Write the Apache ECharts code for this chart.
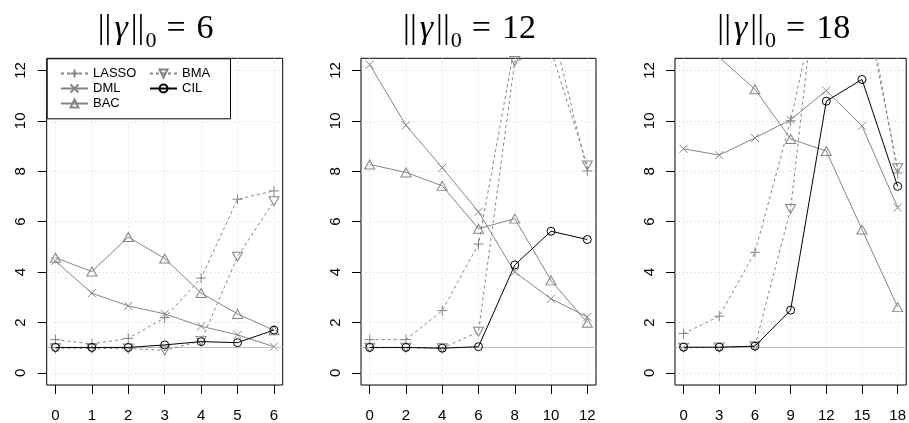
<!DOCTYPE html>
<html>
<head>
<meta charset="utf-8">
<script src="https://cdn.jsdelivr.net/npm/echarts@6/dist/echarts.min.js"></script>
<style>
    html, body { margin: 0; padding: 0; background: #fff; }
    #main { width: 909px; height: 423px; }
</style>
</head>
<body>
<div id="main"></div>
<script>
// values, one block per panel (||gamma||_0 = 6, 12, 18)
var methods = ['LASSO', 'DML', 'BAC', 'BMA', 'CIL'];
var panelLabels = ['6', '12', '18'];
var yTicks = [0, 2, 4, 6, 8, 10, 12];

var x6 = [0, 1, 2, 3, 4, 5, 6];
var lasso6 = [1.32, 1.15, 1.37, 2.19, 3.76, 6.89, 7.22];
var dml6 = [4.44, 3.16, 2.66, 2.34, 1.85, 1.51, 1.04];
var bac6 = [4.57, 4.02, 5.39, 4.54, 3.17, 2.34, 1.69];
var bma6 = [0.98, 0.97, 0.97, 0.89, 1.27, 4.61, 6.81];
var cil6 = [1.01, 1.01, 1.01, 1.11, 1.24, 1.2, 1.7];

var x12 = [0, 2, 4, 6, 8, 10, 12];
var lasso12 = [1.32, 1.32, 2.47, 5.11, 13.0, 13.9, 8.01];
var dml12 = [12.23, 9.82, 8.14, 6.39, 4.0, 2.94, 2.22];
var bac12 = [8.27, 7.95, 7.42, 5.72, 6.12, 3.67, 1.99];
var bma12 = [1.0, 1.0, 0.98, 1.63, 12.37, 12.8, 8.23];
var cil12 = [1.01, 1.01, 0.98, 1.04, 4.28, 5.62, 5.29];

var x18 = [0, 3, 6, 9, 12, 15, 18];
var lasso18 = [1.56, 2.25, 4.78, 10.0, 16.5, 15.8, 7.93];
var dml18 = [8.89, 8.64, 9.32, 10.04, 11.2, 9.8, 6.56];
var bac18 = [14.0, 12.52, 11.25, 9.28, 8.8, 5.69, 2.61];
var bma18 = [1.0, 1.01, 1.06, 6.5, 19.0, 15.2, 8.12];
var cil18 = [1.02, 1.02, 1.06, 2.49, 10.78, 11.64, 7.4];

var refLine = 1;

var panels = [
    {x: x6, xTicks: x6, ys: [lasso6, dml6, bac6, bma6, cil6]},
    {x: x12, xTicks: x12, ys: [lasso12, dml12, bac12, bma12, cil12]},
    {x: x18, xTicks: x18, ys: [lasso18, dml18, bac18, bma18, cil18]}
];

var gray = '#858585';
var styles = {
    LASSO: {color: gray, dash: [3, 3], symbol: 'path://M0,5L10,5M5,0L5,10', size: 10},
    DML:   {color: gray, dash: 'solid', symbol: 'path://M0,0L10,10M10,0L0,10', size: 8},
    BAC:   {color: gray, dash: 'solid', symbol: 'path://M5,0L10,9L0,9Z', size: [10, 9]},
    BMA:   {color: gray, dash: [3, 3], symbol: 'path://M0,0L10,0L5,9Z', size: [10, 9]},
    CIL:   {color: '#000', dash: 'solid', symbol: 'circle', size: 8}
};

var gridLeft = [46.7, 361, 675];
var gridW = [236, 235, 235.5];

var grids = [], xAxes = [], yAxes = [], series = [], titles = [];

var serif = 'Liberation Serif';
var titleRich = {
    a: {fontFamily: serif, fontSize: 34, fontWeight: 'normal', color: '#000', verticalAlign: 'bottom', padding: [0, 1, 6, 1]},
    g: {fontFamily: serif, fontStyle: 'italic', fontSize: 34, fontWeight: 'normal', color: '#000', verticalAlign: 'bottom', padding: [0, 2, 6, 2]},
    s: {fontFamily: serif, fontSize: 22, fontWeight: 'normal', color: '#000', verticalAlign: 'bottom'},
    e: {fontFamily: serif, fontSize: 34, fontWeight: 'normal', color: '#000', verticalAlign: 'bottom', padding: [0, 10, 6, 10]}
};

panels.forEach(function (p, i) {
    var xmax = p.xTicks[p.xTicks.length - 1];
    grids.push({
        left: gridLeft[i], top: 58.3, width: gridW[i], height: 328.4,
        show: true, borderColor: '#000', borderWidth: 1, backgroundColor: 'transparent'
    });
    xAxes.push({
        type: 'value', gridIndex: i,
        min: -0.04 * xmax, max: 1.04 * xmax,
        axisLine: {show: false, onZero: false},
        axisTick: {show: true, length: 9, customValues: p.xTicks, lineStyle: {color: '#000'}},
        axisLabel: {customValues: p.xTicks, margin: 23, color: '#000',
            fontSize: 15, fontFamily: 'Liberation Sans'},
        splitLine: {show: true, lineStyle: {color: '#d3d3d3', type: [1, 3]}}
    });
    yAxes.push({
        type: 'value', gridIndex: i,
        min: -0.48, max: 12.48,
        axisLine: {show: false, onZero: false},
        axisTick: {show: true, length: 9, customValues: yTicks, lineStyle: {color: '#000'}},
        axisLabel: {customValues: yTicks, rotate: 90, margin: 18, color: '#000',
            fontSize: 15, fontFamily: 'Liberation Sans'},
        splitLine: {show: true, lineStyle: {color: '#d3d3d3', type: [1, 3]}}
    });
    methods.forEach(function (m, k) {
        var st = styles[m];
        var s = {
            name: m, type: 'line', xAxisIndex: i, yAxisIndex: i,
            data: p.x.map(function (xv, j) { return [xv, p.ys[k][j]]; }),
            symbol: st.symbol, symbolSize: st.size, showAllSymbol: true,
            lineStyle: {color: st.color, width: 1, type: st.dash},
            itemStyle: {color: 'rgba(255,255,255,0)', borderColor: st.color, borderWidth: 1},
            emphasis: {disabled: true},
            animation: false, z: 2 + k
        };
        if (k === 0) {
            s.markLine = {
                silent: true, symbol: 'none', label: {show: false},
                lineStyle: {color: '#bdbdbd', width: 1, type: 'solid'},
                data: [{yAxis: refLine}]
            };
        }
        series.push(s);
    });
    // title sits a little left of the plot box centre in the original
    titles.push({
        text: '{a|||}{g|γ}{a|||}{s|0}{e|=}{a|' + panelLabels[i] + '}',
        left: gridLeft[i] + gridW[i] / 2 - 14, top: 7, textAlign: 'center',
        textStyle: {fontWeight: 'normal', rich: titleRich}
    });
});

var legendText = {fontSize: 13, fontFamily: 'Liberation Sans', color: '#000'};

var chart = echarts.init(document.getElementById('main'));
chart.setOption({
    animation: false,
    backgroundColor: '#fff',
    title: titles,
    grid: grids,
    xAxis: xAxes,
    yAxis: yAxes,
    legend: [
        {data: ['LASSO', 'DML', 'BAC'], orient: 'vertical', left: 60, top: 67, padding: 0,
            itemWidth: 27, itemHeight: 10, itemGap: 2, textStyle: legendText, selectedMode: false, z: 6},
        {data: ['BMA', 'CIL'], orient: 'vertical', left: 149, top: 67, padding: 0,
            itemWidth: 27, itemHeight: 10, itemGap: 2, textStyle: legendText, selectedMode: false, z: 6}
    ],
    graphic: [{
        type: 'rect', left: 46.7, top: 58.3, z: 5,
        shape: {width: 183.3, height: 60},
        style: {fill: '#fff', stroke: '#000', lineWidth: 1}
    }],
    series: series
});
</script>
</body>
</html>
